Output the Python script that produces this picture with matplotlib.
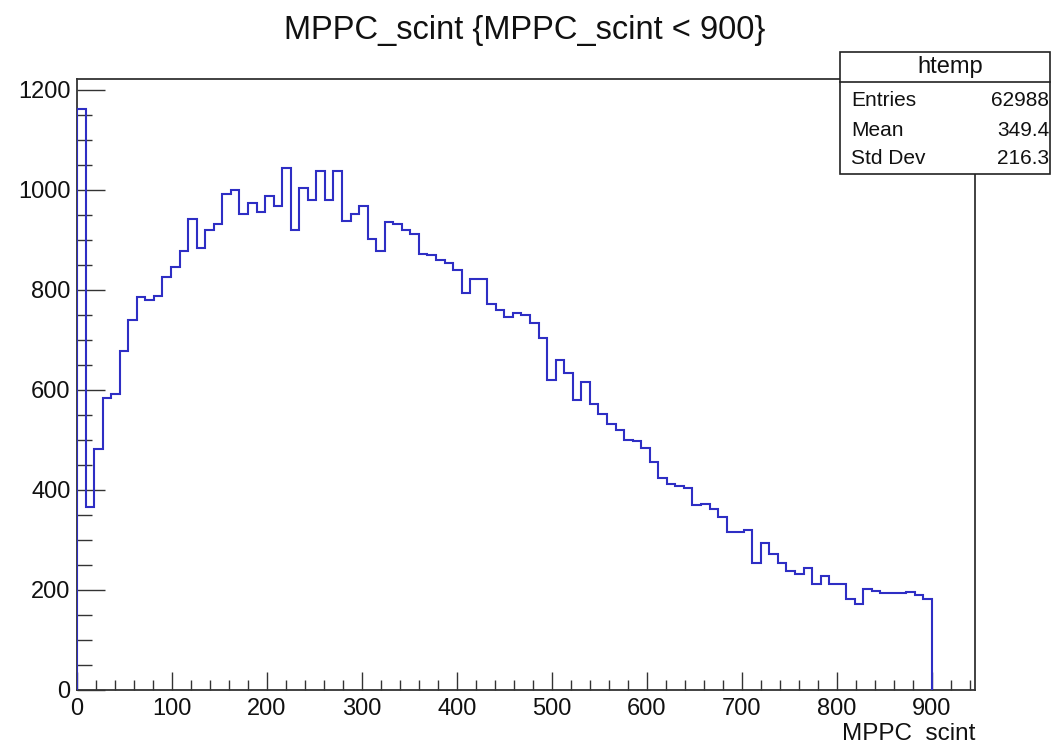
import numpy as np
import matplotlib
matplotlib.use("Agg")
import matplotlib.pyplot as plt
from matplotlib.patches import Rectangle
from matplotlib.lines import Line2D
from matplotlib.ticker import MultipleLocator

# ---- data ----
bin_low = 0.0
bin_high = 900.0
counts = [1162, 366, 481, 584, 592, 678, 739, 786, 780, 788,
          826, 846, 878, 942, 884, 919, 932, 992, 1000, 951,
          974, 956, 987, 967, 1044, 919, 1003, 980, 1038, 980,
          1038, 938, 951, 967, 902, 878, 935, 931, 919, 912,
          872, 869, 860, 854, 839, 794, 822, 822, 771, 759,
          746, 754, 749, 733, 703, 620, 660, 634, 580, 616,
          571, 552, 532, 520, 500, 498, 484, 456, 424, 411,
          408, 404, 370, 372, 362, 346, 315, 315, 320, 254,
          294, 271, 254, 238, 231, 243, 211, 227, 212, 212,
          182, 172, 202, 197, 194, 194, 194, 196, 189, 182]
title = "MPPC_scint {MPPC_scint < 900}"
xlabel = "MPPC_scint"
stats_title = "htemp"
stats_labels = ["Entries", "Mean", "Std Dev"]
stats_values = ["62988", "349.4", "216.3"]
xticks = [0, 100, 200, 300, 400, 500, 600, 700, 800, 900]
yticks = [0, 200, 400, 600, 800, 1000, 1200]

# ---- figure ----
W, H = 1051, 742
plt.rcParams['font.family'] = ['Liberation Sans', 'DejaVu Sans']
fig = plt.figure(figsize=(W / 100, H / 100), dpi=100)
fig.patch.set_facecolor('white')

def px(x, y):
    return x / W, 1 - y / H

l, t = px(77, 79)
r, b = px(975, 690)
ax = fig.add_axes([l, b, r - l, t - b])

edges = np.linspace(bin_low, bin_high, len(counts) + 1)
ax.stairs(counts, edges, baseline=0, color='#2e2ec4', linewidth=1.5, zorder=3)

ax.set_xlim(0, 945.5)
ax.set_ylim(0, 1221)
ax.set_xticks(xticks)
ax.set_yticks(yticks)
ax.xaxis.set_minor_locator(MultipleLocator(20))
ax.yaxis.set_minor_locator(MultipleLocator(50))

for s in ax.spines.values():
    s.set_color('#333333')
    s.set_linewidth(1.3)

ax.tick_params(axis='both', which='both', direction='in', color='#333333',
               width=1.0, labelsize=17, labelcolor='#111111', top=False, right=False)
ax.tick_params(axis='y', which='major', length=20, pad=4.5)
ax.tick_params(axis='y', which='minor', length=10.5)
ax.tick_params(axis='x', which='major', length=13, pad=5.5)
ax.tick_params(axis='x', which='minor', length=7)

# title
fig.text(*px(525, 31), title, ha='center', va='center', fontsize=23.5, color='#111111')
# x label (right aligned at axis end)
fig.text(*px(975, 740), xlabel, ha='right', va='baseline', fontsize=17.5, color='#111111')

# stats box
bx0, by0 = px(840, 174)
bx1, by1 = px(1050, 52)
fig.patches.append(Rectangle((bx0, by0), bx1 - bx0, by1 - by0,
                             transform=fig.transFigure, facecolor='white',
                             edgecolor='#222222', linewidth=1.2, zorder=10))
dy = px(0, 82)[1]
fig.lines.append(Line2D([bx0, bx1], [dy, dy], transform=fig.transFigure,
                        color='#222222', linewidth=1.2, zorder=11))
fig.text(*px(950, 67), stats_title, ha='center', va='center', fontsize=17, zorder=12, color='#111111')
rows_y = [100, 130, 158]
for lab, val, yy in zip(stats_labels, stats_values, rows_y):
    fig.text(*px(851, yy), lab, ha='left', va='center', fontsize=15, zorder=12, color='#111111')
    fig.text(*px(1049, yy), val, ha='right', va='center', fontsize=15, zorder=12, color='#111111')

fig.savefig('out.png', dpi=100)
